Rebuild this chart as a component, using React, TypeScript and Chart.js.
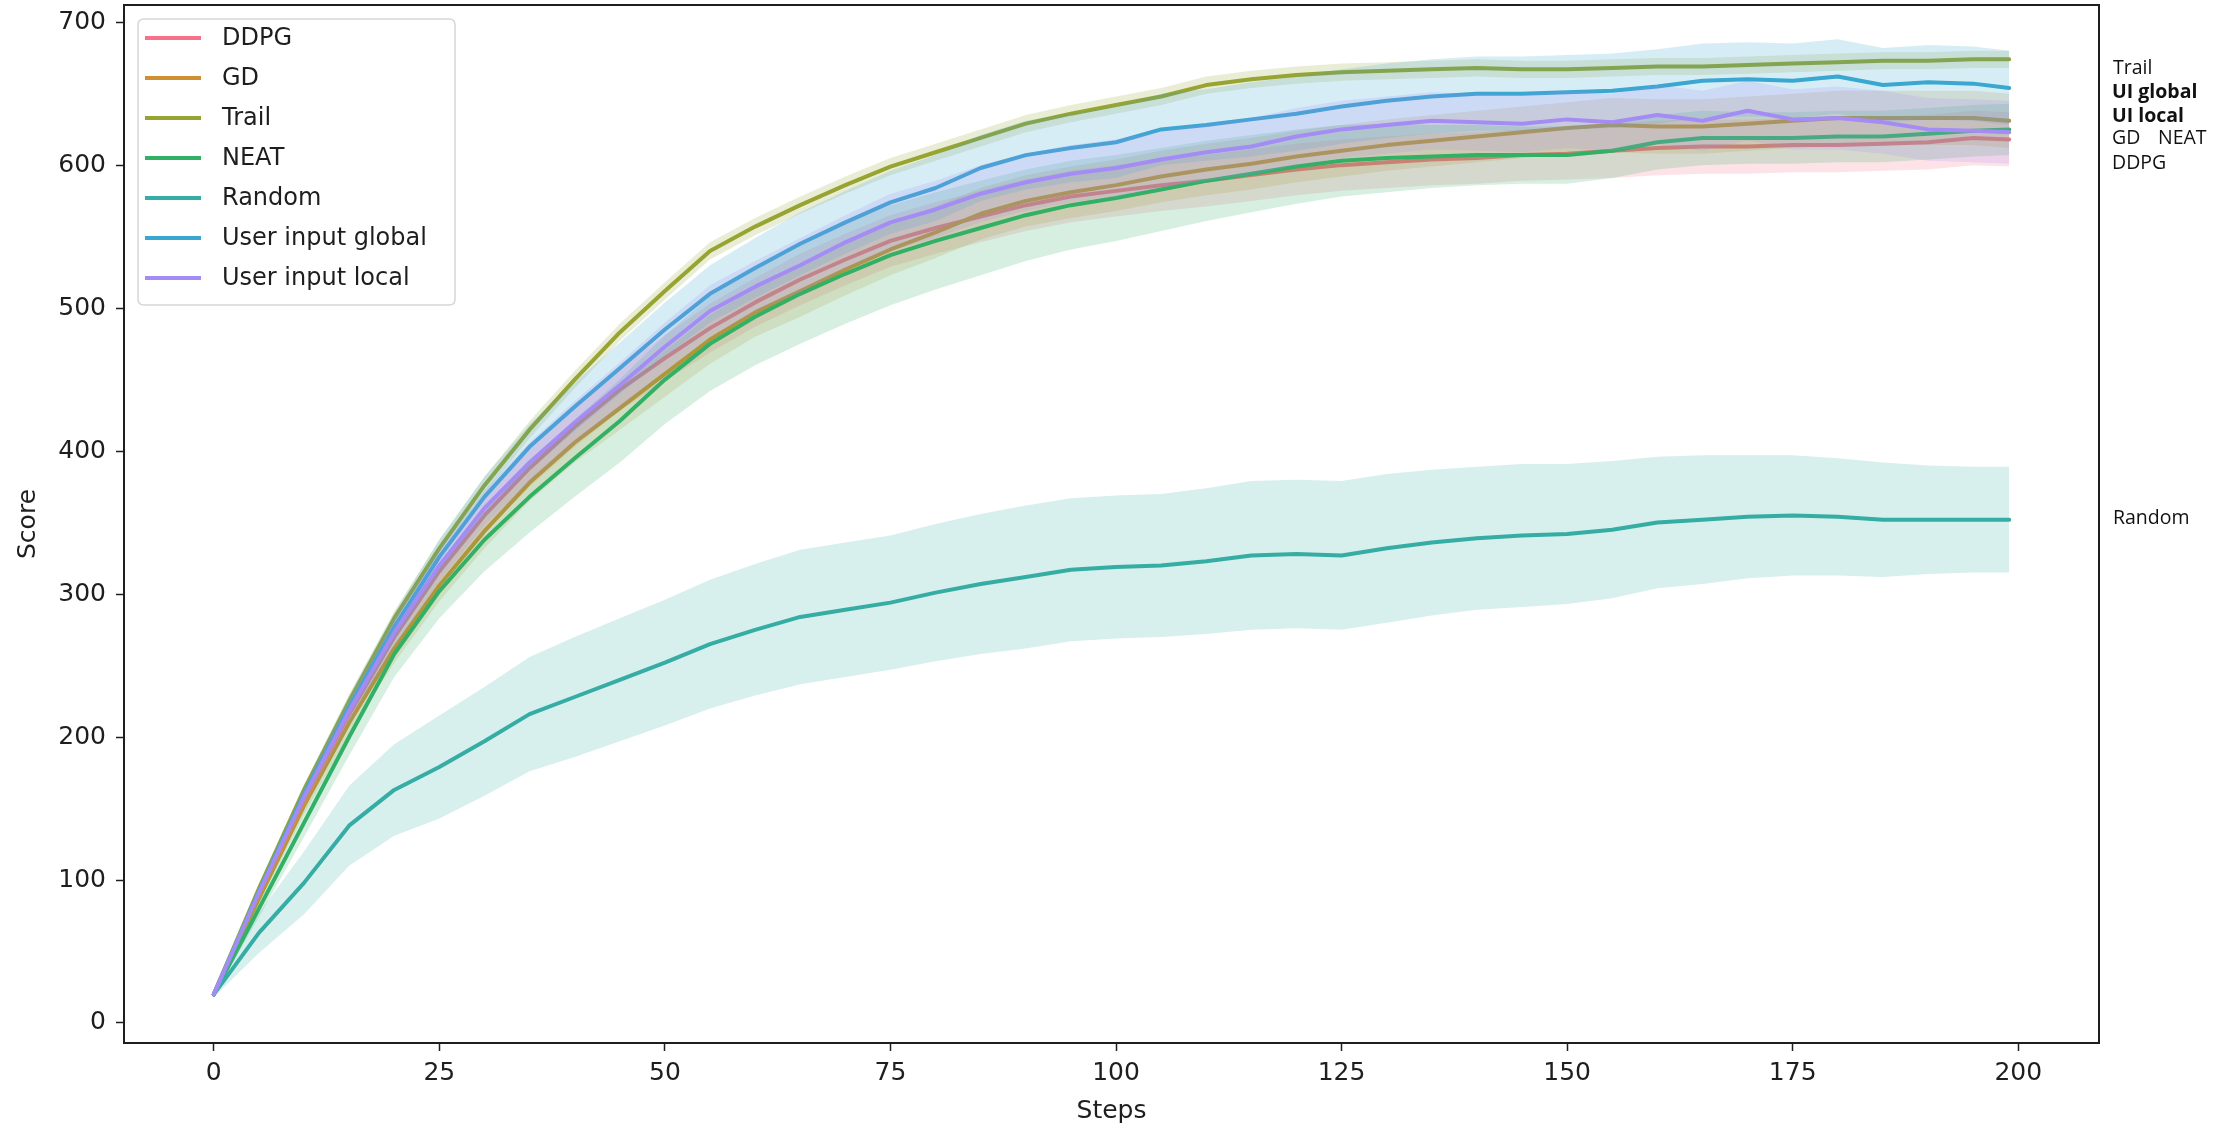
import { useEffect, useRef } from "react";
import { Chart, registerables } from "chart.js";

Chart.register(...registerables);

const W = 2228;
const H = 1128;

// ---------- data ----------
const steps = [0, 5, 10, 15, 20, 25, 30, 35, 40, 45, 50, 55, 60, 65, 70, 75, 80, 85, 90, 95, 100, 105, 110, 115, 120, 125, 130, 135, 140, 145, 150, 155, 160, 165, 170, 175, 180, 185, 190, 195, 199];

const seriesNames = ["DDPG", "GD", "Trail", "NEAT", "Random", "User input global", "User input local"];
const seriesColors = ["#f77189", "#ce9032", "#97a431", "#32b166", "#36ada4", "#39a7d0", "#a48cf4"];

const ddpg = [20, 90, 157, 216, 270, 316, 355, 388, 417, 443, 465, 486, 504, 520, 534, 547, 556, 564, 572, 578, 582, 586, 589, 593, 597, 600, 602, 604, 605, 607, 608, 610, 612, 613, 613, 614, 614, 615, 616, 619, 618];
const gd = [20, 87, 152, 210, 262, 306, 344, 378, 406, 430, 454, 478, 497, 512, 527, 541, 553, 566, 575, 581, 586, 592, 597, 601, 606, 610, 614, 617, 620, 623, 626, 628, 627, 627, 629, 631, 633, 633, 633, 633, 631];
const trail = [20, 94, 163, 225, 283, 332, 376, 415, 450, 483, 512, 540, 557, 572, 586, 599, 609, 619, 629, 636, 642, 648, 656, 660, 663, 665, 666, 667, 668, 667, 667, 668, 669, 669, 670, 671, 672, 673, 673, 674, 674];
const neat = [20, 80, 140, 200, 258, 302, 338, 368, 395, 421, 450, 475, 494, 510, 524, 537, 547, 556, 565, 572, 577, 583, 589, 594, 599, 603, 605, 606, 607, 607, 607, 610, 616, 619, 619, 619, 620, 620, 622, 624, 625];
const random = [20, 63, 98, 138, 163, 179, 197, 216, 228, 240, 252, 265, 275, 284, 289, 294, 301, 307, 312, 317, 319, 320, 323, 327, 328, 327, 332, 336, 339, 341, 342, 345, 350, 352, 354, 355, 354, 352, 352, 352, 352];
const uiGlobal = [20, 92, 160, 221, 277, 326, 368, 403, 431, 458, 485, 510, 528, 545, 560, 574, 584, 598, 607, 612, 616, 625, 628, 632, 636, 641, 645, 648, 650, 650, 651, 652, 655, 659, 660, 659, 662, 656, 658, 657, 654];
const uiLocal = [20, 91, 158, 218, 273, 320, 360, 392, 420, 446, 473, 498, 515, 530, 546, 560, 569, 580, 588, 594, 598, 604, 609, 613, 620, 625, 628, 631, 630, 629, 632, 630, 635, 631, 638, 632, 633, 630, 625, 624, 623];

// half-width of the shaded confidence bands
const ddpgSpread = [1, 4, 6, 8, 10, 11, 12, 13, 14, 15, 16, 17, 17, 18, 18, 18, 18, 18, 18, 18, 18, 18, 18, 18, 18, 18, 18, 18, 18, 18, 18, 19, 19, 19, 19, 19, 19, 19, 19, 19, 19];
const gdSpread = [1, 4, 6, 8, 10, 11, 12, 13, 14, 15, 16, 17, 17, 18, 18, 18, 18, 18, 18, 18, 18, 18, 18, 18, 18, 18, 18, 18, 18, 18, 18, 19, 19, 19, 19, 19, 19, 19, 19, 19, 19];
const trailSpread = [1, 3, 4, 5, 5, 6, 6, 6, 6, 6, 6, 6, 6, 6, 6, 6, 6, 6, 6, 6, 6, 6, 6, 6, 6, 6, 6, 6, 6, 6, 6, 6, 6, 6, 6, 6, 6, 6, 6, 6, 6];
const neatSpread = [1, 6, 10, 13, 16, 19, 22, 25, 27, 29, 31, 33, 34, 35, 35, 35, 34, 33, 32, 31, 30, 29, 28, 27, 26, 25, 24, 22, 21, 20, 20, 19, 19, 19, 18, 18, 18, 18, 18, 18, 18];
const randomSpread = [2, 14, 22, 28, 32, 36, 38, 40, 42, 43, 44, 45, 46, 47, 47, 47, 48, 49, 50, 50, 50, 50, 51, 52, 52, 52, 52, 51, 50, 50, 49, 48, 46, 45, 43, 42, 41, 40, 38, 37, 37];
const uiGlobalSpread = [1, 4, 6, 8, 10, 12, 14, 16, 17, 18, 19, 20, 21, 22, 22, 22, 23, 23, 24, 24, 25, 25, 25, 26, 26, 26, 26, 26, 26, 26, 26, 26, 26, 26, 26, 26, 26, 26, 26, 26, 26];
const uiLocalSpread = [1, 4, 6, 8, 10, 11, 12, 14, 15, 16, 17, 18, 18, 19, 19, 20, 20, 20, 20, 20, 20, 20, 20, 20, 20, 20, 20, 20, 20, 20, 20, 20, 21, 21, 21, 21, 22, 22, 22, 22, 22];

const xTicks = [0, 25, 50, 75, 100, 125, 150, 175, 200];
const yTicks = [0, 100, 200, 300, 400, 500, 600, 700];

const xLabel = "Steps";
const yLabel = "Score";

const sideLabels = [
  { text: "Trail", x: 2113, y: 68, bold: false },
  { text: "UI global", x: 2112, y: 92, bold: true },
  { text: "UI local", x: 2112, y: 116, bold: true },
  { text: "GD", x: 2112, y: 138, bold: false },
  { text: "NEAT", x: 2158, y: 138, bold: false },
  { text: "DDPG", x: 2112, y: 163, bold: false },
  { text: "Random", x: 2113, y: 518, bold: false },
];

// ---------- helpers ----------
const allMeans = [ddpg, gd, trail, neat, random, uiGlobal, uiLocal];
const allSpreads = [ddpgSpread, gdSpread, trailSpread, neatSpread, randomSpread, uiGlobalSpread, uiLocalSpread];

function hexToRgba(hex: string, a: number) {
  const n = parseInt(hex.slice(1), 16);
  return `rgba(${(n >> 16) & 255},${(n >> 8) & 255},${n & 255},${a})`;
}

const FONT = "'DejaVu Sans', sans-serif";
const TEXT = "#1e1e1e";

function buildDatasets() {
  const ds: any[] = [];
  let k = 0;
  allMeans.forEach((mean, i) => {
    const sp = allSpreads[i];
    const col = seriesColors[i];
    const low = steps.map((x, j) => ({ x, y: mean[j] - sp[j] }));
    const high = steps.map((x, j) => ({ x, y: mean[j] + sp[j] }));
    const line = steps.map((x, j) => ({ x, y: mean[j] }));
    ds.push({
      label: seriesNames[i] + " low",
      data: low,
      borderColor: "rgba(0,0,0,0)",
      borderWidth: 0,
      pointRadius: 0,
      fill: false,
      order: 200 - k++,
    });
    ds.push({
      label: seriesNames[i] + " high",
      data: high,
      borderColor: "rgba(0,0,0,0)",
      borderWidth: 0,
      pointRadius: 0,
      backgroundColor: hexToRgba(col, 0.2),
      fill: "-1",
      order: 200 - k++,
    });
    ds.push({
      label: seriesNames[i],
      data: line,
      borderColor: col,
      borderWidth: 4,
      pointRadius: 0,
      fill: false,
      borderJoinStyle: "round",
      borderCapStyle: "round",
      order: 200 - k++,
    });
  });
  return ds;
}

const decorPlugin = {
  id: "decor",
  afterDraw(chart: any) {
    const ctx = chart.ctx as CanvasRenderingContext2D;
    const a = chart.chartArea;
    ctx.save();
    // frame (all four spines)
    ctx.strokeStyle = "#1e1e1e";
    ctx.lineWidth = 2;
    ctx.strokeRect(a.left, a.top, a.right - a.left, a.bottom - a.top);

    // axis titles
    ctx.fillStyle = TEXT;
    ctx.font = `25px ${FONT}`;
    ctx.textAlign = "center";
    ctx.textBaseline = "middle";
    ctx.fillText(xLabel, (a.left + a.right) / 2, 1111);
    ctx.save();
    ctx.translate(28, (a.top + a.bottom) / 2);
    ctx.rotate(-Math.PI / 2);
    ctx.fillText(yLabel, 0, 0);
    ctx.restore();

    // legend
    const bx = 138, by = 19, bw = 317, bh = 286, r = 6;
    ctx.beginPath();
    ctx.moveTo(bx + r, by);
    ctx.lineTo(bx + bw - r, by);
    ctx.quadraticCurveTo(bx + bw, by, bx + bw, by + r);
    ctx.lineTo(bx + bw, by + bh - r);
    ctx.quadraticCurveTo(bx + bw, by + bh, bx + bw - r, by + bh);
    ctx.lineTo(bx + r, by + bh);
    ctx.quadraticCurveTo(bx, by + bh, bx, by + bh - r);
    ctx.lineTo(bx, by + r);
    ctx.quadraticCurveTo(bx, by, bx + r, by);
    ctx.closePath();
    ctx.fillStyle = "rgba(255,255,255,0.8)";
    ctx.fill();
    ctx.strokeStyle = "#d6d6d6";
    ctx.lineWidth = 1.5;
    ctx.stroke();

    ctx.font = `24px ${FONT}`;
    ctx.textAlign = "left";
    ctx.textBaseline = "middle";
    seriesNames.forEach((name, i) => {
      const y = 38 + i * 40;
      ctx.strokeStyle = seriesColors[i];
      ctx.lineWidth = 4;
      ctx.lineCap = "butt";
      ctx.beginPath();
      ctx.moveTo(145, y);
      ctx.lineTo(201, y);
      ctx.stroke();
      ctx.fillStyle = TEXT;
      ctx.fillText(name, 222, y + 1);
    });

    // labels to the right of the plot
    ctx.fillStyle = "#111";
    ctx.textBaseline = "middle";
    sideLabels.forEach((l) => {
      ctx.font = `${l.bold ? "bold " : ""}19.5px 'Open Sans', sans-serif`;
      ctx.fillText(l.text, l.x, l.y);
    });
    ctx.restore();
  },
};

export default function App() {
  const ref = useRef<HTMLCanvasElement>(null);
  useEffect(() => {
    document.body.style.margin = "0";
    const chart = new Chart(ref.current!, {
      type: "line",
      data: { datasets: buildDatasets() },
      options: {
        responsive: false,
        animation: false,
        devicePixelRatio: 1,
        layout: { padding: { left: 0, top: 5, right: 129, bottom: 0 } },
        plugins: {
          legend: { display: false },
          tooltip: { enabled: false },
          filler: { propagate: false },
        },
        elements: { line: { tension: 0 } },
        scales: {
          x: {
            type: "linear",
            min: -9.95,
            max: 208.95,
            afterBuildTicks: (s: any) => {
              s.ticks = xTicks.map((v) => ({ value: v }));
            },
            afterFit: (s: any) => {
              s.height = 85;
              s.paddingLeft = 0;
              s.paddingRight = 0;
              s.paddingTop = 0;
              s.paddingBottom = 0;
            },
            ticks: {
              font: { family: FONT, size: 25 },
              color: TEXT,
              padding: 7,
              maxRotation: 0,
              autoSkip: false,
            },
            grid: {
              display: true,
              drawOnChartArea: false,
              drawTicks: true,
              tickLength: 8,
              tickWidth: 1.5,
              tickColor: "#1e1e1e",
            },
            border: { display: false },
          },
          y: {
            type: "linear",
            min: -14,
            max: 712,
            afterBuildTicks: (s: any) => {
              s.ticks = yTicks.map((v) => ({ value: v }));
            },
            afterFit: (s: any) => {
              s.width = 124;
              s.paddingTop = 0;
              s.paddingBottom = 0;
              s.paddingLeft = 0;
              s.paddingRight = 0;
            },
            ticks: {
              font: { family: FONT, size: 25 },
              color: TEXT,
              padding: 10,
              autoSkip: false,
            },
            grid: {
              display: true,
              drawOnChartArea: false,
              drawTicks: true,
              tickLength: 8,
              tickWidth: 1.5,
              tickColor: "#1e1e1e",
            },
            border: { display: false },
          },
        },
      } as any,
      plugins: [decorPlugin],
    });
    return () => chart.destroy();
  }, []);
  return (
    <div style={{ position: "absolute", left: 0, top: 0, width: W, height: H, background: "#fff" }}>
      <canvas ref={ref} width={W} height={H} style={{ width: W, height: H, display: "block" }} />
    </div>
  );
}
